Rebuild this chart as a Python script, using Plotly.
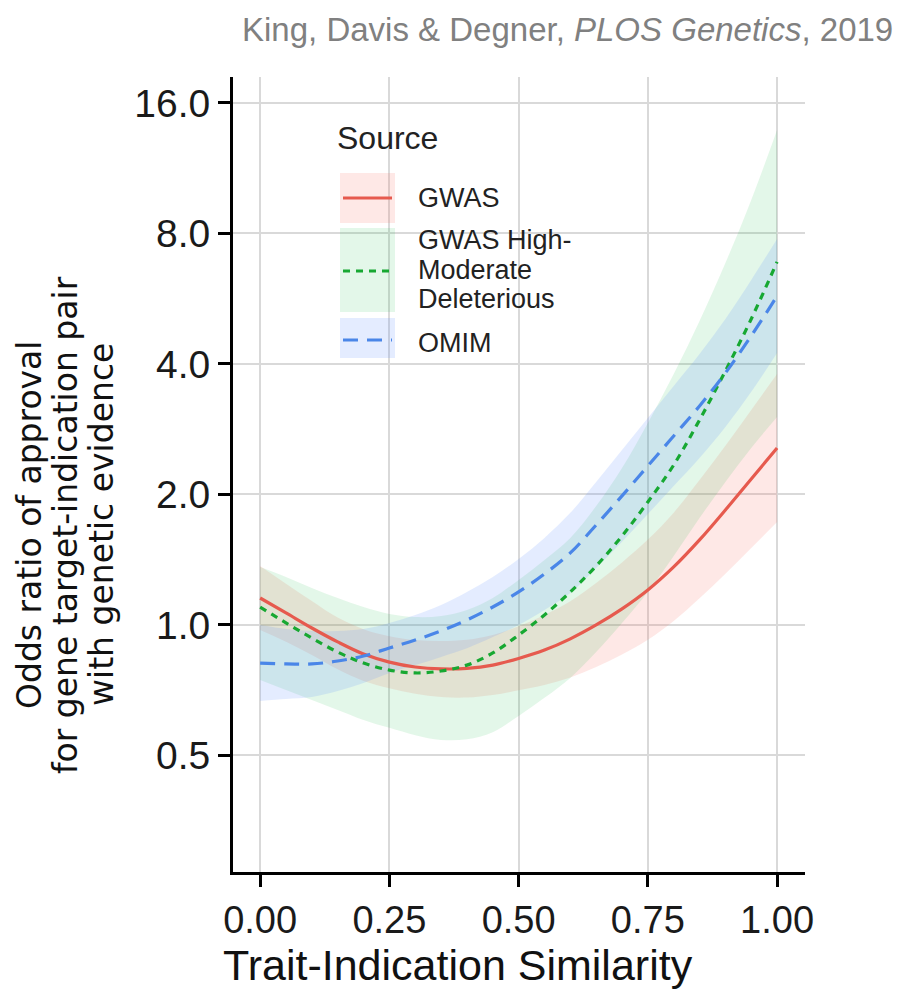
import plotly.graph_objects as go

# ---- data ----
sim = [0.00, 0.05, 0.10, 0.15, 0.20, 0.25, 0.30, 0.35, 0.40, 0.45, 0.50,
       0.55, 0.60, 0.65, 0.70, 0.75, 0.80, 0.85, 0.90, 0.95, 1.00]

gwas_or = [1.154, 1.066, 0.984, 0.914, 0.857, 0.821, 0.800, 0.792, 0.794, 0.808, 0.837,
           0.875, 0.929, 1.000, 1.089, 1.204, 1.361, 1.571, 1.842, 2.172, 2.560]
gwas_lo = [0.974, 0.915, 0.853, 0.790, 0.743, 0.715, 0.694, 0.682, 0.680, 0.689, 0.707,
           0.727, 0.757, 0.800, 0.855, 0.925, 1.022, 1.153, 1.313, 1.505, 1.728]
gwas_hi = [1.368, 1.245, 1.136, 1.040, 0.978, 0.942, 0.923, 0.918, 0.924, 0.948, 0.993,
           1.054, 1.134, 1.250, 1.394, 1.574, 1.816, 2.160, 2.590, 3.134, 3.792]

hmd_or = [1.100, 1.011, 0.933, 0.866, 0.817, 0.787, 0.775, 0.783, 0.808, 0.862, 0.948,
          1.055, 1.192, 1.368, 1.604, 1.922, 2.339, 2.971, 3.854, 5.080, 6.877]
hmd_lo = [0.747, 0.708, 0.671, 0.637, 0.604, 0.579, 0.557, 0.543, 0.545, 0.566, 0.617,
          0.679, 0.755, 0.866, 1.011, 1.192, 1.443, 1.765, 2.137, 2.560, 3.019]
hmd_hi = [1.361, 1.291, 1.217, 1.154, 1.100, 1.060, 1.043, 1.049, 1.083, 1.154, 1.270,
          1.412, 1.588, 1.881, 2.302, 2.924, 3.792, 5.028, 6.840, 9.560, 13.86]

omim_or = [0.817, 0.813, 0.813, 0.826, 0.848, 0.885, 0.923, 0.969, 1.027, 1.100, 1.192,
           1.311, 1.466, 1.701, 1.985, 2.327, 2.729, 3.200, 3.813, 4.643, 5.740]
omim_lo = [0.668, 0.675, 0.682, 0.704, 0.735, 0.775, 0.808, 0.844, 0.884, 0.938, 1.000,
           1.083, 1.185, 1.353, 1.555, 1.802, 2.092, 2.428, 2.862, 3.449, 4.240]
omim_hi = [1.000, 0.979, 0.969, 0.969, 0.979, 1.011, 1.055, 1.112, 1.192, 1.291, 1.420,
           1.588, 1.814, 2.137, 2.533, 3.002, 3.558, 4.216, 5.080, 6.250, 7.771]

x_ticks = [0.0, 0.25, 0.5, 0.75, 1.0]
x_tick_text = ["0.00", "0.25", "0.50", "0.75", "1.00"]
y_ticks = [0.5, 1, 2, 4, 8, 16]
y_tick_text = ["0.5", "1.0", "2.0", "4.0", "8.0", "16.0"]

legend_title = "Source"
legend_labels = [["GWAS"], ["GWAS High-", "Moderate", "Deleterious"], ["OMIM"]]

series = [
    (gwas_or, gwas_lo, gwas_hi, "#E65A4E", "rgba(248,118,109,0.17)", "solid"),
    (hmd_or, hmd_lo, hmd_hi, "#17A832", "rgba(0,186,56,0.11)", "7px,6px"),
    (omim_or, omim_lo, omim_hi, "#4A86E8", "rgba(97,140,255,0.17)", "15px,9px"),
]

FONT = "Liberation Sans, Arial, Helvetica, sans-serif"
WIDE = "DejaVu Sans, Verdana, sans-serif"

fig = go.Figure()

# ribbons
for y, lo, hi, col, fcol, dash in series:
    fig.add_trace(go.Scatter(x=sim, y=lo, mode="lines", line=dict(width=0, shape="spline"),
                             showlegend=False, hoverinfo="skip"))
    fig.add_trace(go.Scatter(x=sim, y=hi, mode="lines", line=dict(width=0, shape="spline"),
                             fill="tonexty", fillcolor=fcol, showlegend=False, hoverinfo="skip"))

# lines
for (y, lo, hi, col, fcol, dash), lab in zip(series, legend_labels):
    fig.add_trace(go.Scatter(x=sim, y=y, mode="lines", name=" ".join(lab),
                             line=dict(color=col, width=3.2, dash=dash, shape="spline"),
                             showlegend=False))

# ---- manual legend (paper coords) ----
L, B, W, H = 233, 872, 572, 795


def px(xp):
    return (xp - L) / W


def py(yp):
    return (B - yp) / H


shapes = []
annotations = []
keys = [(173, 223, 198), (228, 312, 271), (318, 358, 340)]
label_rows = [[198], [240, 270, 299], [343]]
for (y, lo, hi, col, fcol, dash), (t, b, ly), rows, lab in zip(series, keys, label_rows,
                                                                legend_labels):
    shapes.append(dict(type="rect", xref="paper", yref="paper", x0=px(340), x1=px(395),
                       y0=py(b), y1=py(t), fillcolor=fcol, line=dict(width=0), layer="above"))
    shapes.append(dict(type="line", xref="paper", yref="paper", x0=px(343), x1=px(392),
                       y0=py(ly), y1=py(ly), line=dict(color=col, width=3.2, dash=dash),
                       layer="above"))
    for txt, ry in zip(lab, rows):
        annotations.append(dict(text=txt, xref="paper", yref="paper", x=px(416), y=py(ry),
                                xanchor="left", yanchor="middle", showarrow=False,
                                font=dict(family=FONT, size=27, color="#222222")))

annotations.append(dict(text=legend_title, xref="paper", yref="paper", x=px(335), y=py(138),
                        xanchor="left", yanchor="middle", showarrow=False,
                        font=dict(family=FONT, size=32, color="#222222")))

# y-axis title lines
ytitle = ["Odds ratio of approval", "for gene target-indication pair", "with genetic evidence"]
for line, xc in zip(ytitle, [29, 65, 101]):
    annotations.append(dict(text=line, xref="paper", yref="paper", x=px(xc), y=py(525),
                            xanchor="center", yanchor="middle", showarrow=False, textangle=-90,
                            font=dict(family=WIDE, size=33, color="#111111")))

# x-axis title
annotations.append(dict(text="Trait-Indication Similarity", xref="paper", yref="paper",
                        x=px(458), y=py(965), xanchor="center", yanchor="middle",
                        showarrow=False, font=dict(family=FONT, size=43, color="#111111")))

# citation
annotations.append(dict(text="King, Davis & Degner, <i>PLOS Genetics</i>, 2019",
                        xref="paper", yref="paper", x=px(895), y=py(29), xanchor="right",
                        yanchor="middle", showarrow=False,
                        font=dict(family=FONT, size=33, color="#808080")))

fig.update_layout(
    width=912, height=995,
    margin=dict(l=L, r=912 - L - W, t=B - H, b=995 - B, pad=0),
    paper_bgcolor="white", plot_bgcolor="white",
    showlegend=False,
    shapes=shapes, annotations=annotations,
    xaxis=dict(range=[-0.0525, 1.054], tickvals=x_ticks, ticktext=x_tick_text,
               showgrid=True, gridcolor="#d9d9d9", gridwidth=2, zeroline=False,
               showline=True, linecolor="black", linewidth=3,
               ticks="outside", ticklen=12, tickwidth=3, tickcolor="black",
               tickfont=dict(family=FONT, size=38, color="#1a1a1a")),
    yaxis=dict(type="log", range=[-0.5698, 1.264], tickvals=y_ticks, ticktext=y_tick_text,
               showgrid=True, gridcolor="#d9d9d9", gridwidth=2, zeroline=False,
               showline=True, linecolor="black", linewidth=3,
               ticks="outside", ticklen=12, tickwidth=3, tickcolor="black",
               tickfont=dict(family=FONT, size=39, color="#1a1a1a")),
)

fig.write_html("out.html", config={"displayModeBar": False})
